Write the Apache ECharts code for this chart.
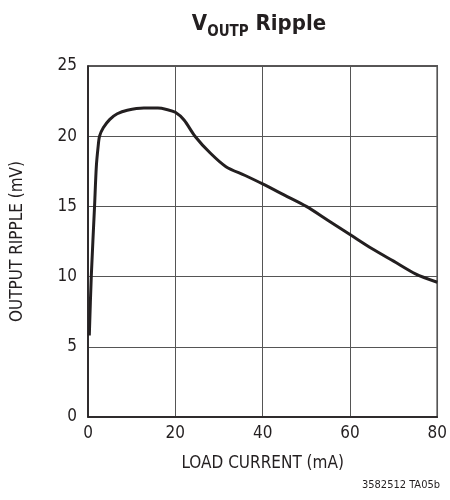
<!DOCTYPE html>
<html>
<head>
<meta charset="utf-8">
<script src="https://cdn.jsdelivr.net/npm/echarts@6/dist/echarts.min.js"></script>
<style>
  html, body { margin: 0; padding: 0; background: #fff; }
  #chart { width: 450px; height: 500px; }
</style>
</head>
<body>
<div id="chart"></div>
<script>
// load current (mA) vs output ripple (mV)
const loadCurrent = [0.3, 0.75, 1.5, 1.9, 2.3, 2.65, 3.5, 5, 6.7, 9, 12.8, 16, 18, 20, 22, 24.5, 28, 31.6, 36, 40, 45, 50, 55, 60, 65, 70, 75, 80];
const ripple = [5.8, 10, 15, 17.8, 19.2, 20, 20.6, 21.2, 21.6, 21.85, 22.0, 22.0, 21.9, 21.7, 21.15, 20.0, 18.8, 17.83, 17.2, 16.6, 15.8, 15.0, 14.0, 13.0, 12.0, 11.1, 10.2, 9.6];
const xTicks = [0, 20, 40, 60, 80];
const yTicks = [0, 5, 10, 15, 20, 25];

const font = '"DejaVu Sans Condensed", "Liberation Sans Narrow", sans-serif';
const ink = '#231f20';

const chart = echarts.init(document.getElementById('chart'));
chart.setOption({
  animation: false,
  title: {
    left: 254,
    textAlign: 'center',
    top: 8,
    text: '{v|V}{s|OUTP}{r| Ripple}',
    textStyle: {
      rich: {
        v: { fontFamily: font, fontWeight: 'bold', fontSize: 22, color: ink, verticalAlign: 'bottom' },
        s: { fontFamily: font, fontWeight: 'bold', fontSize: 15, color: ink, verticalAlign: 'bottom', padding: [0, 0, -5, 0] },
        r: { fontFamily: font, fontWeight: 'bold', fontSize: 22, color: ink, verticalAlign: 'bottom' }
      }
    }
  },
  grid: {
    left: 88, right: 11, top: 66, bottom: 83,
    show: true, borderColor: ink, borderWidth: 1.5
  },
  xAxis: {
    type: 'value',
    min: xTicks[0], max: xTicks[xTicks.length - 1], interval: 20,
    name: 'LOAD CURRENT (mA)',
    nameLocation: 'middle',
    nameGap: 38,
    nameTextStyle: { fontFamily: font, fontSize: 17, color: ink },
    axisLine: { lineStyle: { color: ink, width: 1.5 } },
    axisTick: { show: false },
    axisLabel: { fontFamily: font, fontSize: 17, color: ink, margin: 8 },
    splitLine: { lineStyle: { color: '#555', width: 1 } }
  },
  yAxis: {
    type: 'value',
    min: yTicks[0], max: yTicks[yTicks.length - 1], interval: 5,
    name: 'OUTPUT RIPPLE (mV)',
    nameLocation: 'middle',
    nameGap: 62,
    nameTextStyle: { fontFamily: font, fontSize: 17, color: ink },
    axisLine: { lineStyle: { color: ink, width: 1.5 } },
    axisTick: { show: false },
    axisLabel: { fontFamily: font, fontSize: 17, color: ink, margin: 11 },
    splitLine: { lineStyle: { color: '#555', width: 1 } }
  },
  graphic: [{
    type: 'text',
    right: 10,
    top: 480,
    style: { text: '3582512 TA05b', fontFamily: font, fontSize: 11, fill: ink }
  }],
  series: [{
    type: 'line',
    data: loadCurrent.map((x, i) => [x, ripple[i]]),
    showSymbol: false,
    smooth: 0.3,
    lineStyle: { color: ink, width: 3 }
  }]
});
</script>
</body>
</html>
